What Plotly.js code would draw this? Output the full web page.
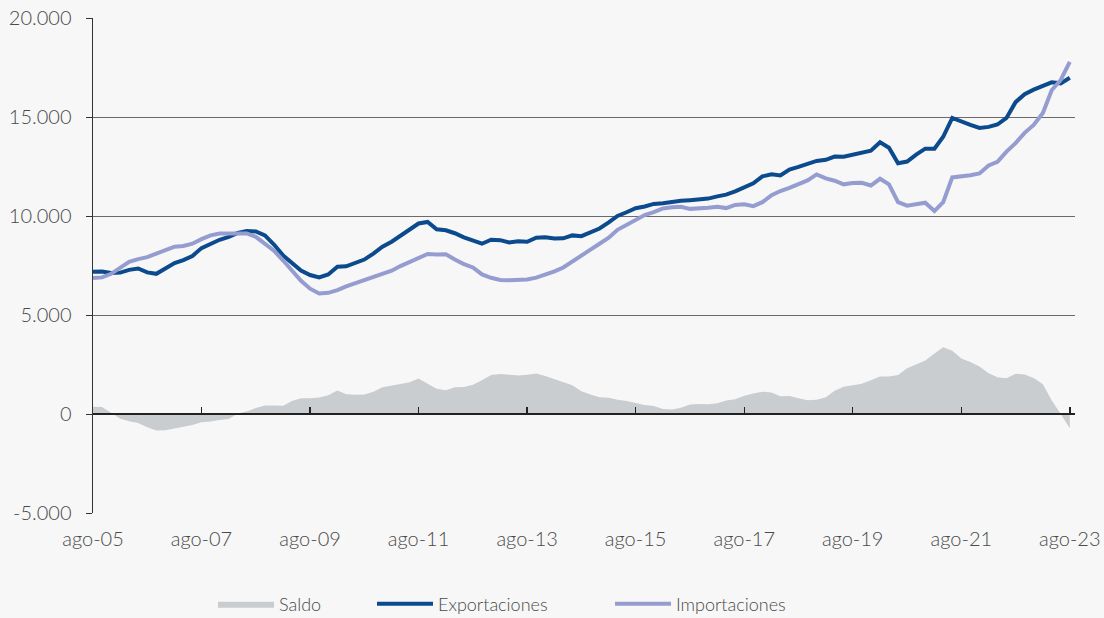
<!DOCTYPE html>
<html>
<head>
<meta charset="utf-8">
<script src="https://cdn.plot.ly/plotly-3.0.1.min.js"></script>
<style>
  html, body { margin: 0; padding: 0; background: #f7f7f7; }
  #chart { width: 1104px; height: 618px; }
</style>
</head>
<body>
<div id="chart"></div>
<script>
// Readings every two months, ago-05 .. ago-23
const exportaciones = [
  7190, 7200, 7120, 7140, 7280, 7350, 7150, 7080, 7350, 7620,
  7770, 7980, 8380, 8600, 8800, 8950, 9140, 9240, 9220, 9020,
  8560, 8000, 7650, 7250, 7020, 6900, 7050, 7440, 7460, 7650,
  7800, 8100, 8450, 8700, 9000, 9350, 9620, 9700, 9330, 9280,
  9130, 8920, 8780, 8600, 8800, 8780, 8660, 8730, 8700, 8900,
  8930, 8860, 8870, 9020, 8980, 9200, 9370, 9680, 10000, 10190,
  10390, 10480, 10610, 10640, 10730, 10770, 10800, 10840, 10880, 10990,
  11080, 11240, 11450, 11650, 12000, 12110, 12050, 12350, 12480, 12620,
  12780, 12840, 13000, 12990, 13080, 13200, 13300, 13720, 13450, 12660,
  12750, 13100, 13400, 13400, 14000, 14950, 14750, 14600, 14450, 14500,
  14620, 14950, 15750, 16150, 16380, 16580, 16750, 16700, 16980
];

const importaciones = [
  6870, 6900, 7080, 7400, 7680, 7820, 7920, 8100, 8290, 8450,
  8490, 8600, 8830, 9020, 9110, 9120, 9150, 9120, 8950, 8620,
  8250, 7750, 7230, 6730, 6330, 6090, 6120, 6260, 6450, 6600,
  6780, 6920, 7050, 7240, 7470, 7670, 7830, 8080, 8050, 8070,
  7800, 7570, 7400, 7050, 6880, 6770, 6760, 6790, 6790, 6890,
  7040, 7200, 7400, 7720, 7980, 8300, 8600, 8900, 9300, 9550,
  9850, 10050, 10200, 10380, 10440, 10470, 10360, 10370, 10420, 10470,
  10400, 10560, 10590, 10500, 10700, 11050, 11260, 11420, 11600, 11800,
  12100, 11900, 11780, 11600, 11670, 11680, 11540, 11880, 11600, 10700,
  10520, 10620, 10670, 10250, 10700, 11950, 11980, 12060, 12150, 12550,
  12740, 13250, 13680, 14200, 14600, 15200, 16350, 16870, 17780
];

const saldo = [
  370, 350, 60, -240, -360, -460, -670, -830, -820, -730,
  -680, -560, -420, -380, -300, -250, 20, 125, 300, 430,
  430, 420, 660, 800, 800, 830, 950, 1190, 1000, 970,
  990, 1130, 1350, 1450, 1520, 1600, 1790, 1530, 1270, 1200,
  1350, 1360, 1480, 1700, 1970, 2020, 1980, 1950, 1980, 2050,
  1920, 1750, 1580, 1450, 1150, 980, 850, 820, 720, 660,
  560, 450, 400, 250, 230, 310, 480, 510, 490, 540,
  680, 740, 920, 1040, 1120, 1080, 900, 910, 790, 700,
  720, 850, 1180, 1380, 1450, 1530, 1700, 1900, 1890, 1970,
  2310, 2510, 2700, 3050, 3370, 3200, 2800, 2620, 2400, 2060,
  1850, 1800, 2030, 2000, 1820, 1500, 700, 0, -720
];

const tickDates = [
  "2005-08-01", "2007-08-01", "2009-08-01", "2011-08-01", "2013-08-01",
  "2015-08-01", "2017-08-01", "2019-08-01", "2021-08-01", "2023-08-01"
];
const tickLabels = [
  "ago-05", "ago-07", "ago-09", "ago-11", "ago-13",
  "ago-15", "ago-17", "ago-19", "ago-21", "ago-23"
];
const yTicks = [-5000, 0, 5000, 10000, 15000, 20000];
const yTickLabels = ["-5.000", "0", "5.000", "10.000", "15.000", "20.000"];

// one date every two months from ago-05
function bimonthly(n) {
  const out = [];
  for (let i = 0; i < n; i++) {
    const d = new Date(Date.UTC(2005, 7 + 2 * i, 1));
    out.push(d.toISOString().slice(0, 10));
  }
  return out;
}

const dates = bimonthly(exportaciones.length);
const xRange = ["2005-08-01", "2023-09-05"];
const textColor = "#4a4a4a";
const fontFamily = "Lato, 'Open Sans', sans-serif";

// each legend entry gets its own box so the gaps can follow the original
function legendBox(xPx) {
  return {
    orientation: "h",
    xref: "container",
    yref: "container",
    x: xPx / 1104,
    xanchor: "left",
    y: 14 / 618,
    yanchor: "middle",
    itemwidth: 56,
    font: { family: fontFamily, size: 18, color: textColor, weight: 300 },
    bgcolor: "rgba(0,0,0,0)",
  };
}

const traces = [
  {
    x: dates, y: saldo, name: "Saldo", xaxis: "x2", legend: "legend",
    type: "scatter", mode: "lines", fill: "tozeroy",
    fillcolor: "#c9cdd0", line: { width: 0, color: "#c9cdd0" },
  },
  {
    x: dates, y: exportaciones, name: "Exportaciones", legend: "legend2",
    type: "scatter", mode: "lines",
    line: { color: "#0b4a8c", width: 4 },
  },
  {
    x: dates, y: importaciones, name: "Importaciones", legend: "legend3",
    type: "scatter", mode: "lines",
    line: { color: "#959dd0", width: 4 },
  },
];

const layout = {
  width: 1104,
  height: 618,
  margin: { l: 93, r: 29, t: 18, b: 105 },
  paper_bgcolor: "#f7f7f7",
  plot_bgcolor: "#f7f7f7",
  font: { family: fontFamily, size: 20, color: textColor, weight: 300 },
  showlegend: true,
  hovermode: false,
  xaxis: {
    type: "date",
    range: xRange,
    tickvals: tickDates,
    ticktext: tickLabels,
    ticks: "",
    showline: false,
    showgrid: false,
    zeroline: false,
    ticklabelstandoff: 12,
  },
  xaxis2: {
    type: "date",
    overlaying: "x",
    anchor: "free",
    position: 0.2,
    side: "bottom",
    range: xRange,
    tickvals: tickDates,
    ticks: "inside",
    ticklen: 6,
    tickwidth: 1.5,
    tickcolor: "#222",
    showticklabels: false,
    showline: true,
    linecolor: "#222",
    linewidth: 2,
    showgrid: false,
    zeroline: false,
  },
  yaxis: {
    range: [-5000, 20000],
    tickvals: yTicks,
    ticktext: yTickLabels,
    ticks: "outside",
    ticklen: 6,
    tickcolor: "#333",
    showline: true,
    linecolor: "#333",
    linewidth: 1.5,
    showgrid: true,
    gridcolor: "#6a6a6a",
    gridwidth: 1,
    zeroline: false,
    ticklabelstandoff: 10,
  },
  legend: legendBox(213),
  legend2: legendBox(372),
  legend3: legendBox(610),
};

Plotly.newPlot("chart", traces, layout, { displayModeBar: false, staticPlot: true });
</script>
</body>
</html>
